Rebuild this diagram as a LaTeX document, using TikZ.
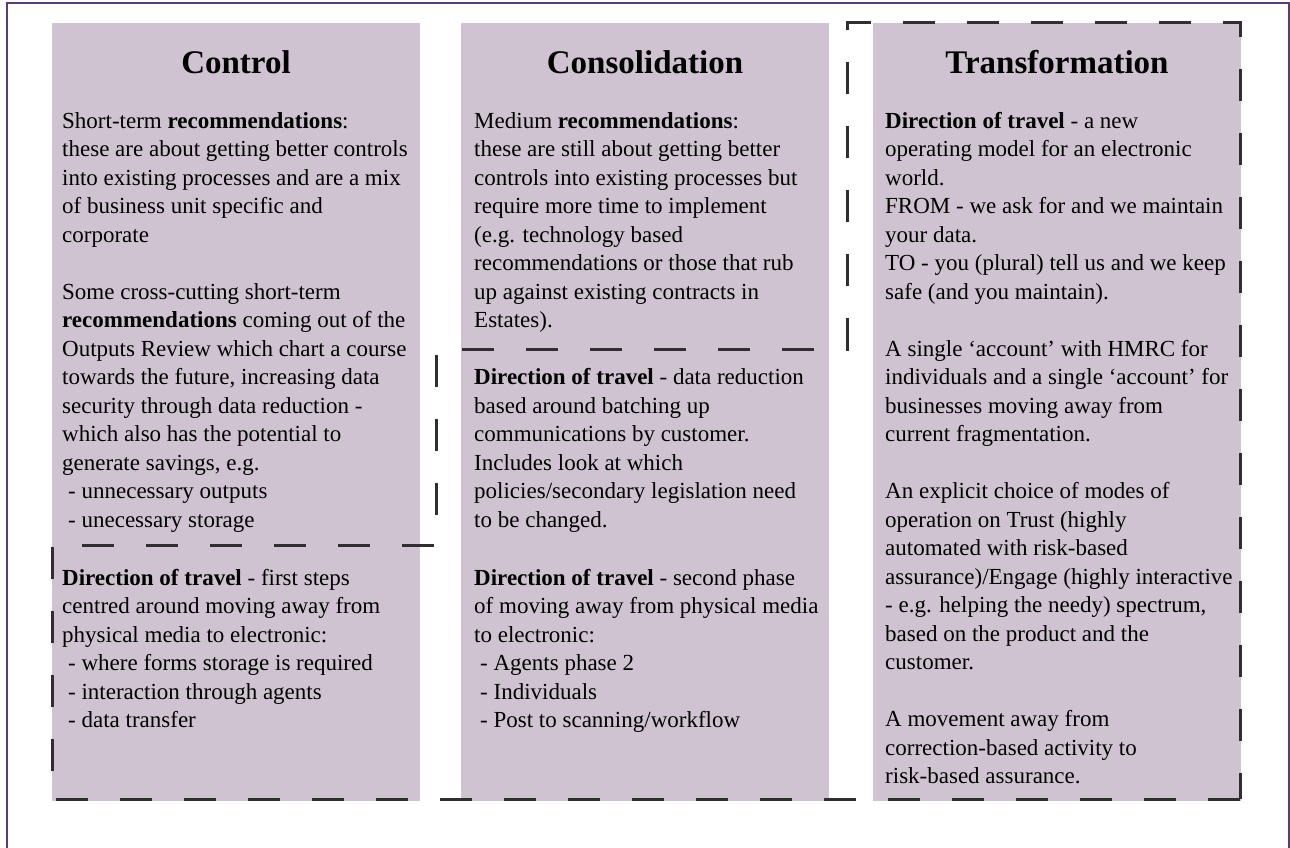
\documentclass[tikz,border=0pt]{standalone}
\usepackage{fontspec}
\setmainfont{Liberation Serif}
\definecolor{FramePurple}{HTML}{5C3B78}
\definecolor{ColumnLilac}{HTML}{CFC3D1}
\definecolor{DashGray}{HTML}{2F2F2F}
\usetikzlibrary{positioning}
\tikzset{
  column/.style={fill=ColumnLilac, draw=none, anchor=north west, inner sep=0pt, minimum width=368pt, minimum height=778pt},
  heading/.style={anchor=base, inner sep=0pt, font=\fontsize{33}{40}\selectfont\bfseries},
  bodytext/.style={anchor=north west, inner sep=0pt, align=left, font=\fontsize{23}{28.5}\selectfont},
  phaseline/.style={draw=DashGray, line width=3pt, dash pattern=on 32pt off 32pt},
  framebox/.style={draw=FramePurple, line width=2pt}
}
\newcommand{\listdash}{\hspace*{6pt}- }

\begin{document}
\begin{tikzpicture}[x=1pt, y=-1pt]
\useasboundingbox (0,0) rectangle (1290,847);
\draw[framebox] (7,3.3) rectangle (1289,880);

% three columns
\node[column] (ctrlcol) at (52,23) {};
\node[column] (conscol) at (461,23) {};
\node[column] (transcol) at (873,23) {};

% staged outline
\draw[phaseline] (1240,799) -- (52,799) -- (52,545) -- (436,545) -- (436,349)
  -- (847,349) -- (847,22) -- (1240,22) -- cycle;

% headings
\node[heading] (ctrlTitle) at (236,73) {Control};
\node[heading] (consTitle) at (645,73) {Consolidation};
\node[heading] (transTitle) at (1057,73) {Transformation};

% Control
\node[bodytext] (ctrlShort) at (62,108) {\strut Short-term \textbf{recommendations}:\\
these are about getting better controls\\
into existing processes and are a mix\\
of business unit specific and\\
corporate};
\node[bodytext] (ctrlCross) at (62,279) {\strut Some cross-cutting short-term\\
\textbf{recommendations} coming out of the\\
Outputs Review which chart a course\\
towards the future, increasing data\\
security through data reduction -\\
which also has the potential to\\
generate savings, e.g.\\
\listdash unnecessary outputs\\
\listdash unecessary storage};
\node[bodytext] (ctrlDir) at (62,565) {\strut \textbf{Direction of travel} - first steps\\
centred around moving away from\\
physical media to electronic:\\
\listdash where forms storage is required\\
\listdash interaction through agents\\
\listdash data transfer};

% Consolidation
\node[bodytext] (consMedium) at (474,108) {\strut Medium \textbf{recommendations}:\\
these are still about getting better\\
controls into existing processes but\\
require more time to implement\\
(e.g. technology based\\
recommendations or those that rub\\
up against existing contracts in\\
Estates).};
\node[bodytext] (consReduce) at (474,364.5) {\strut \textbf{Direction of travel} - data reduction\\
based around batching up\\
communications by customer.\\
Includes look at which\\
policies/secondary legislation need\\
to be changed.};
\node[bodytext] (consSecond) at (474,565) {\strut \textbf{Direction of travel} - second phase\\
of moving away from physical media\\
to electronic:\\
\listdash Agents phase 2\\
\listdash Individuals\\
\listdash Post to scanning/workflow};

% Transformation
\node[bodytext] (transModel) at (885,108) {\strut \textbf{Direction of travel} - a new\\
operating model for an electronic\\
world.\\
FROM - we ask for and we maintain\\
your data.\\
TO - you (plural) tell us and we keep\\
safe (and you maintain).};
\node[bodytext] (transAccount) at (885,336) {\strut A single ‘account’ with HMRC for\\
individuals and a single ‘account’ for\\
businesses moving away from\\
current fragmentation.};
\node[bodytext] (transModes) at (885,478.5) {\strut An explicit choice of modes of\\
operation on Trust (highly\\
automated with risk-based\\
assurance)/Engage (highly interactive\\
- e.g. helping the needy) spectrum,\\
based on the product and the\\
customer.};
\node[bodytext] (transMove) at (885,706.5) {\strut A movement away from\\
correction-based activity to\\
risk-based assurance.};
\end{tikzpicture}
\end{document}
